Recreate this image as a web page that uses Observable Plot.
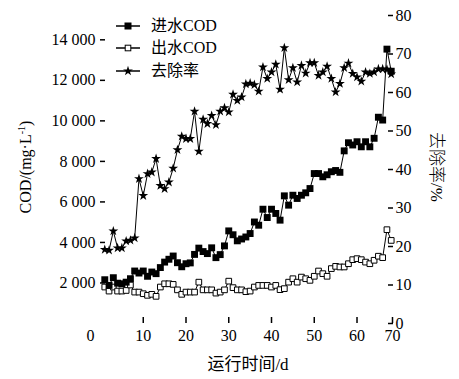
<!DOCTYPE html>
<html><head><meta charset="utf-8">
<script src="https://cdn.jsdelivr.net/npm/d3@7"></script>
<script src="https://cdn.jsdelivr.net/npm/@observablehq/plot@0.6"></script>
<style>
html,body{margin:0;padding:0;background:#fff;}
#wrap{position:relative;width:459px;height:379px;overflow:hidden;font-family:"Liberation Serif","Noto Sans CJK SC",serif;color:#000;}
.t{position:absolute;white-space:nowrap;font-size:16px;line-height:1;}
.rot{transform:translate(-50%,-50%) rotate(-90deg);}
.rotr{transform:translate(-50%,-50%) rotate(90deg);}
.ctr{transform:translate(-50%,-50%);}
.leg{position:absolute;display:flex;align-items:center;font-size:16px;line-height:1;white-space:nowrap;}
.leg svg{margin-right:11px;}
sup{font-size:10px;vertical-align:6px;line-height:0;}
</style></head><body><div id="wrap"></div>
<script>
const days = d3.range(1, 69);
const influent = [2160,1880,2260,1990,1960,2040,2210,2590,2490,2590,
 2330,2540,2460,2760,3030,3170,3330,3000,2800,2950,
 2990,3410,3720,3550,3450,3735,3250,3400,3830,4570,
 4380,4080,4170,4270,4440,5010,4850,5640,5230,5640,
 5430,5100,6300,5840,6330,6170,6330,6450,6660,7400,
 7400,7240,7340,7490,7550,7460,8520,8920,8810,8970,
 8720,8970,8720,9140,10180,10040,13540,12450];
const effluent = [1800,1600,1800,1600,1600,1630,1900,1550,1550,1470,
 1390,1440,1340,1800,1960,1960,1930,1660,1440,1550,
 1550,1550,2040,1660,1660,1660,1500,1550,1660,2090,
 1770,1660,1660,1570,1600,1800,1880,1880,1880,1800,
 1880,1670,1720,2040,2210,2040,2290,2210,2130,2330,
 2590,2460,2330,2710,2820,2790,2790,2950,3150,3200,
 3150,3030,2950,3120,3320,3250,4630,4100];
const removal = [19.2,19.0,24.0,19.6,19.6,21.4,21.6,22.2,37.6,33.2,
 38.9,39.3,42.8,35.8,35.0,36.7,40.3,45.1,48.6,48.0,
 48.0,55.1,44.7,53.0,51.9,54.0,51.6,55.1,56.0,54.9,
 59.5,57.9,58.8,62.2,62.4,62.0,60.3,66.6,63.6,65.3,
 67.3,60.8,71.6,63.3,66.4,62.7,67.0,65.0,67.7,67.7,
 64.4,65.3,66.8,63.6,60.1,62.3,66.4,67.6,64.9,64.0,
 62.9,65.3,64.9,65.3,66.1,66.1,66.0,64.8];
const xTicks = [10, 20, 30, 40, 50, 60, 70];
const xZeroTick = [0];
const codTicks = [2000, 4000, 6000, 8000, 10000, 12000, 14000];
const rateTicks = [0, 10, 20, 30, 40, 50, 60, 70, 80];
const seriesNames = ["进水COD", "出水COD", "去除率"];
const xTitle = "运行时间/d";
const yTitle = "COD/(mg·L<sup>-1</sup>)";
const y2Title = "去除率/%";

const codMax = 15200, rateMax = 80;
const k = codMax / rateMax;
const rows = days.map((d, i) => ({day: d, inf: influent[i], eff: effluent[i], rate: removal[i] * k}));
const fmt = d => String(d).replace(/\B(?=(\d{3})+$)/g, " ");

const plot = Plot.plot({
  width: 459, height: 379,
  marginLeft: 100, marginRight: 67, marginTop: 15, marginBottom: 56,
  style: {fontFamily: '"Liberation Serif", serif', fontSize: "16px", color: "#000", background: "#fff", overflow: "visible"},
  x: {domain: [0, 68.3], clamp: true},
  y: {domain: [0, codMax]},
  marks: [
    Plot.axisX(xTicks, {tickSize: -6, tickPadding: 12, line: true, strokeWidth: 1.5, label: null, tickFormat: d => d}),
    Plot.axisX(xZeroTick, {tickSize: 0, tickPadding: 6, dx: -10, label: null, tickFormat: d => d}),
    Plot.axisY(codTicks, {anchor: "left", tickSize: -5, tickPadding: 10, line: true, strokeWidth: 1.5, tickFormat: fmt, label: null}),
    Plot.axisY(rateTicks.map(r => r * k), {anchor: "right", tickSize: -5, tickPadding: 8, line: true, strokeWidth: 1.5, tickFormat: d => Math.round(d / k), label: null}),
    Plot.line(rows, {x: "day", y: "eff", stroke: "#000", strokeWidth: 1}),
    Plot.line(rows, {x: "day", y: "inf", stroke: "#000", strokeWidth: 1}),
    Plot.line(rows, {x: "day", y: "rate", stroke: "#000", strokeWidth: 1}),
    Plot.dot(rows, {x: "day", y: "eff", symbol: "square", r: 3.2, fill: "#fff", stroke: "#000", strokeWidth: 1}),
    Plot.dot(rows, {x: "day", y: "inf", symbol: "square", r: 3.9, fill: "#000", stroke: "none"}),
    Plot.dot(rows, {x: "day", y: "rate", symbol: "star", r: 3.1, fill: "#000", stroke: "none"})
  ]
});

const wrap = document.getElementById("wrap");
wrap.appendChild(plot);

function addText(html, cls, x, y, extra) {
  const el = document.createElement("div");
  el.className = "t " + cls;
  el.style.left = x + "px"; el.style.top = y + "px";
  if (extra) Object.assign(el.style, extra);
  el.innerHTML = html;
  wrap.appendChild(el);
}
addText(yTitle, "rot", 26, 167);
addText(y2Title, "rotr", 436, 167, {fontSize: "17px", fontWeight: "300"});
addText(xTitle, "ctr", 248, 364, {fontSize: "17px"});

const starPath = d3.symbol(d3.symbolStar, Math.PI * 3.1 * 3.1)();
const markers = [
  `<rect x="8.5" y="1.5" width="7" height="7" fill="#000"/>`,
  `<rect x="9.2" y="2.2" width="5.6" height="5.6" fill="#fff" stroke="#000" stroke-width="1"/>`,
  `<path d="${starPath}" transform="translate(12,5)" fill="#000"/>`
];
const legY = [25.5, 48, 71];
seriesNames.forEach((name, i) => {
  const row = document.createElement("div");
  row.className = "leg";
  row.style.left = "116px";
  row.style.top = (legY[i] - 8) + "px";
  row.style.height = "16px";
  row.innerHTML = `<svg width="24" height="10" style="overflow:visible"><line x1="0" x2="24" y1="5" y2="5" stroke="#000" stroke-width="1.5"/>${markers[i]}</svg><span>${name}</span>`;
  wrap.appendChild(row);
});
</script></body></html>
